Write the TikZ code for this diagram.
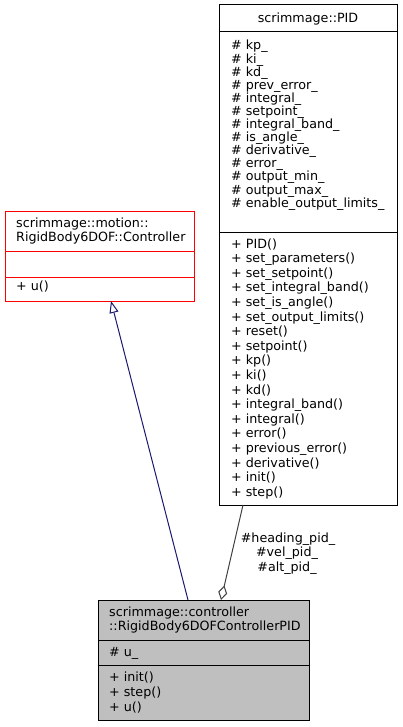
\documentclass[tikz,border=0pt]{standalone}
\usepackage{fontspec}
\setmainfont{DejaVu Sans}
\usetikzlibrary{arrows.meta}
\definecolor{navyline}{RGB}{25,25,112}
\definecolor{grayline}{RGB}{64,64,64}
\definecolor{boxgray}{RGB}{191,191,191}
\definecolor{boxred}{RGB}{255,0,0}
\begin{document}
\begin{tikzpicture}[x=1pt,y=-1pt,
  box/.style={draw, line width=1pt, inner sep=0pt, outer sep=0pt, anchor=north west},
  txt/.style={anchor=base west, inner sep=0pt, font=\fontsize{12.7}{14.6}\selectfont},
  ctxt/.style={anchor=base, inner sep=0pt, font=\fontsize{12.7}{14.6}\selectfont},
  sepline/.style={line width=1pt},
  inherit/.style={draw=navyline, line width=1pt, -{Triangle[open, length=12pt, width=9pt, fill=white]}},
  compose/.style={draw=grayline, line width=1pt, {Diamond[open, length=15pt, width=9pt, fill=white]}-}
]
\useasboundingbox (0,0) rectangle (402,727);

% ---- scrimmage::PID ----
\node[box, minimum width=178pt, minimum height=500pt] (pid) at (219,5) {};
\draw[sepline] (219,32) -- (397,32);
\draw[sepline] (219,232) -- (397,232);
\node[ctxt] (pidtitle) at (308,23) {scrimmage::PID};
\foreach \t [count=\i from 0] in {kp\_, ki\_, kd\_, prev\_error\_, integral\_, setpoint\_, integral\_band\_, is\_angle\_, derivative\_, error\_, output\_min\_, output\_max\_, enable\_output\_limits\_}
  \node[txt] (pa\i) at (231, 50+13.1*\i) {\# \t};
\foreach \t [count=\i from 0] in {PID(), set\_parameters(), set\_setpoint(), set\_integral\_band(), set\_is\_angle(), set\_output\_limits(), reset(), setpoint(), kp(), ki(), kd(), integral\_band(), integral(), error(), previous\_error(), derivative(), init(), step()}
  \node[txt] (pm\i) at (231, 248+14.6*\i) {+ \t};

% ---- scrimmage::motion::RigidBody6DOF::Controller ----
\node[box, draw=boxred, minimum width=189pt, minimum height=89pt] (ctl) at (5,212) {};
\draw[sepline, boxred] (5,251) -- (194,251);
\draw[sepline, boxred] (5,277) -- (194,277);
\node[txt] (ctlt1) at (16,227) {scrimmage::motion::};
\node[txt] (ctlt2) at (16,241) {RigidBody6DOF::Controller};
\node[txt] (ctlm1) at (16,290) {+ u()};

% ---- scrimmage::controller::RigidBody6DOFControllerPID ----
\node[box, fill=boxgray, minimum width=211pt, minimum height=120pt] (pidc) at (98,600) {};
\draw[sepline] (98,640) -- (309,640);
\draw[sepline] (98,665) -- (309,665);
\node[txt] (pct1) at (109,616) {scrimmage::controller};
\node[txt] (pct2) at (109,630) {::RigidBody6DOFControllerPID};
\node[txt] (pca1) at (109,656) {\# u\_};
\node[txt] (pcm1) at (109,681) {+ init()};
\node[txt] (pcm2) at (109,696) {+ step()};
\node[txt] (pcm3) at (109,711) {+ u()};

% ---- connectors ----
\coordinate (inhS) at (188,600);
\coordinate (inhE) at (111,301);
\draw[inherit] (inhS) -- (inhE);
\coordinate (cmpS) at (221,600);
\coordinate (cmpE) at (243,505);
\draw[compose] (cmpS) -- (cmpE);
\node[ctxt] (lab1) at (288,542) {\#heading\_pid\_};
\node[ctxt] (lab2) at (287,556) {\#vel\_pid\_};
\node[ctxt] (lab3) at (287,571) {\#alt\_pid\_};
\end{tikzpicture}
\end{document}
